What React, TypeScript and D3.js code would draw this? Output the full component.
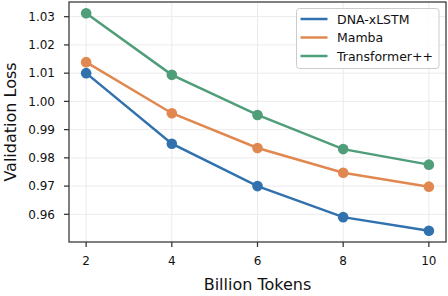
import React from "react";
import * as d3 from "d3";

const tokens = [2, 4, 6, 8, 10];
const dnaXlstm = [1.01, 0.985, 0.97, 0.959, 0.9542];
const mamba = [1.0139, 0.9958, 0.9835, 0.9747, 0.9698];
const transformer = [1.0312, 1.0094, 0.9952, 0.9831, 0.9776];
const seriesNames = ["DNA-xLSTM", "Mamba", "Transformer++"];
const seriesColors = ["#3171ad", "#e0884f", "#4f9e79"];
const xTicks = [2, 4, 6, 8, 10];
const yTicks = [0.96, 0.97, 0.98, 0.99, 1.0, 1.01, 1.02, 1.03];

const W = 448;
const H = 296;
const M = { left: 69, right: 2, top: 2, bottom: 54 };

export default function App() {
  const x = d3.scaleLinear().domain([1.6, 10.4]).range([M.left, W - M.right]);
  const y = d3.scaleLinear().domain([0.9502, 1.0352]).range([H - M.bottom, M.top]);
  const allSeries = [dnaXlstm, mamba, transformer];
  const line = d3
    .line<number>()
    .x((_, i) => x(tokens[i]))
    .y((d) => y(d));
  const font = "DejaVu Sans, sans-serif";
  const x0 = M.left;
  const x1 = W - M.right;
  const y0 = M.top;
  const y1 = H - M.bottom;
  return (
    <svg
      width={W}
      height={H}
      style={{ position: "absolute", left: 0, top: 0, background: "#fff" }}
      fontFamily={font}
    >
      <rect x={0} y={0} width={W} height={H} fill="#fff" />
      {xTicks.map((t) => (
        <line key={"gx" + t} x1={x(t)} x2={x(t)} y1={y0} y2={y1} stroke="#ebebeb" strokeWidth={1} />
      ))}
      {yTicks.map((t) => (
        <line key={"gy" + t} x1={x0} x2={x1} y1={y(t)} y2={y(t)} stroke="#ebebeb" strokeWidth={1} />
      ))}
      {allSeries.map((s, i) => (
        <g key={"s" + i}>
          <path d={line(s) || ""} fill="none" stroke={seriesColors[i]} strokeWidth={2.5} />
          {s.map((v, j) => (
            <circle key={j} cx={x(tokens[j])} cy={y(v)} r={5.3} fill={seriesColors[i]} />
          ))}
        </g>
      ))}
      <rect x={x0} y={y0} width={x1 - x0} height={y1 - y0} fill="none" stroke="#333" strokeWidth={1.25} />
      {xTicks.map((t) => (
        <g key={"tx" + t}>
          <line x1={x(t)} x2={x(t)} y1={y1} y2={y1 + 5} stroke="#333" strokeWidth={1.25} />
          <text x={x(t)} y={265} fontSize={12} textAnchor="middle" fill="#111">
            {t}
          </text>
        </g>
      ))}
      {yTicks.map((t) => (
        <g key={"ty" + t}>
          <line x1={x0 - 5} x2={x0} y1={y(t)} y2={y(t)} stroke="#333" strokeWidth={1.25} />
          <text x={55} y={y(t)} dy="0.36em" fontSize={12} textAnchor="end" fill="#111">
            {t.toFixed(2)}
          </text>
        </g>
      ))}
      <text x={(x0 + x1) / 2} y={290} fontSize={16} textAnchor="middle" fill="#111">
        Billion Tokens
      </text>
      <text
        transform={`translate(15.5,${(y0 + y1) / 2}) rotate(-90)`}
        fontSize={16}
        textAnchor="middle"
        fill="#111"
      >
        Validation Loss
      </text>
      <g>
        <rect x={296.5} y={8.5} width={142.5} height={60} rx={3} fill="#fff" fillOpacity={0.85} stroke="#cccccc" strokeWidth={1} />
        {seriesNames.map((n, i) => (
          <g key={n}>
            <line x1={300.5} x2={327.5} y1={19 + i * 18.5} y2={19 + i * 18.5} stroke={seriesColors[i]} strokeWidth={2.5} />
            <text x={337} y={19 + i * 18.5} dy="0.36em" fontSize={12.5} fill="#111">
              {n}
            </text>
          </g>
        ))}
      </g>
    </svg>
  );
}
